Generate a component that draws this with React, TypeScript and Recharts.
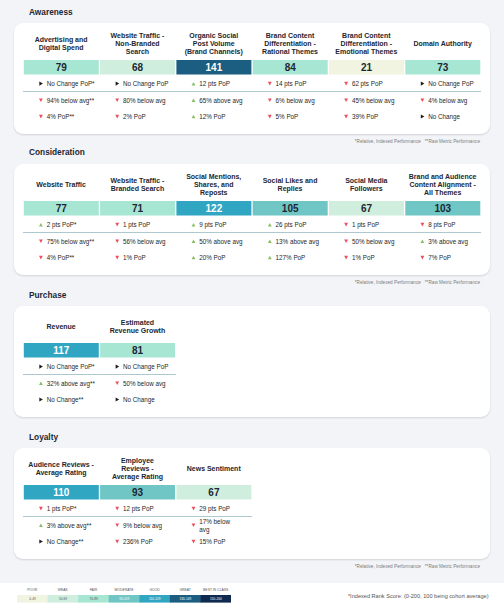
import { BarChart, Bar, XAxis, YAxis } from 'recharts'

const FONT = '"Liberation Sans", Arial, Helvetica, sans-serif'
const BAND = 76.3
const DARK = '#1d2733'

// score bands (legend)
const bandLabels = ['POOR', 'WEAK', 'FAIR', 'MODERATE', 'GOOD', 'GREAT', 'BEST IN CLASS']
const bandRanges = ['0-49', '50-69', '70-89', '90-109', '110-129', '130-149', '150-200']
const bandMax = [49, 69, 89, 109, 129, 149, 200]
const bandColors = ['#f0f4e1', '#cfeedd', '#a7e6d3', '#6fc6c5', '#31a6c2', '#1c5e81', '#10294f']

// Awareness
const awarenessMetrics = [
  'Advertising and\nDigital Spend',
  'Website Traffic -\nNon-Branded\nSearch',
  'Organic Social\nPost Volume\n(Brand Channels)',
  'Brand Content\nDifferentiation -\nRational Themes',
  'Brand Content\nDifferentiation -\nEmotional Themes',
  'Domain Authority',
]
const awarenessScores = [79, 68, 141, 84, 21, 73]
const awarenessPoP = ['▶ No Change PoP*', '▶ No Change PoP', '▲ 12 pts PoP', '▼ 14 pts PoP', '▼ 62 pts PoP', '▶ No Change PoP']
const awarenessVsAvg = ['▼ 94% below avg**', '▼ 80% below avg', '▲ 65% above avg', '▼ 6% below avg', '▼ 45% below avg', '▼ 4% below avg']
const awarenessRaw = ['▼ 4% PoP**', '▼ 2% PoP', '▲ 12% PoP', '▼ 5% PoP', '▼ 39% PoP', '▶ No Change']

// Consideration
const considerationMetrics = [
  'Website Traffic',
  'Website Traffic -\nBranded Search',
  'Social Mentions,\nShares, and\nReposts',
  'Social Likes and\nReplies',
  'Social Media\nFollowers',
  'Brand and Audience\nContent Alignment -\nAll Themes',
]
const considerationScores = [77, 71, 122, 105, 67, 103]
const considerationPoP = ['▲ 2 pts PoP*', '▼ 1 pts PoP', '▲ 9 pts PoP', '▲ 26 pts PoP', '▼ 1 pts PoP', '▼ 8 pts PoP']
const considerationVsAvg = ['▼ 75% below avg**', '▼ 56% below avg', '▲ 50% above avg', '▲ 13% above avg', '▼ 50% below avg', '▲ 3% above avg']
const considerationRaw = ['▼ 4% PoP**', '▼ 1% PoP', '▲ 20% PoP', '▲ 127% PoP', '▼ 1% PoP', '▼ 7% PoP']

// Purchase
const purchaseMetrics = ['Revenue', 'Estimated\nRevenue Growth']
const purchaseScores = [117, 81]
const purchasePoP = ['▶ No Change PoP*', '▶ No Change PoP']
const purchaseVsAvg = ['▲ 32% above avg**', '▼ 50% below avg']
const purchaseRaw = ['▶ No Change**', '▶ No Change']

// Loyalty
const loyaltyMetrics = ['Audience Reviews -\nAverage Rating', 'Employee\nReviews -\nAverage Rating', 'News Sentiment']
const loyaltyScores = [110, 93, 67]
const loyaltyPoP = ['▼ 1 pts PoP*', '▼ 12 pts PoP', '▼ 29 pts PoP']
const loyaltyVsAvg = ['▲ 3% above avg**', '▼ 9% below avg', '▼ 17% below\navg']
const loyaltyRaw = ['▶ No Change**', '▼ 236% PoP', '▼ 15% PoP']

const bandIndex = (score: number) => {
  const i = bandMax.findIndex((m) => score <= m)
  return i < 0 ? bandMax.length - 1 : i
}

function HeaderTick(props: any) {
  const { x, y, payload } = props
  const lines = String(payload.value).split('\n')
  const lh = 8.2
  const cy = y - 16.6
  return (
    <text x={x} textAnchor="middle" fontFamily={FONT} fontSize={7} fontWeight={700} fill={DARK}>
      {lines.map((l, i) => (
        <tspan key={i} x={x} y={cy + (i - (lines.length - 1) / 2) * lh} dominantBaseline="central">
          {l}
        </tspan>
      ))}
    </text>
  )
}

function Trend({ x, y, label }: { x: number; y: number; label: string }) {
  const mark = label[0]
  const lines = label.slice(2).split('\n')
  let marker
  if (mark === '▲') {
    marker = <path d={`M${x},${y + 1.8} L${x + 3.8},${y + 1.8} L${x + 1.9},${y - 1.7} Z`} fill="#86bf62" />
  } else if (mark === '▼') {
    marker = <path d={`M${x},${y - 1.8} L${x + 3.8},${y - 1.8} L${x + 1.9},${y + 1.9} Z`} fill="#ee4d5d" />
  } else {
    marker = <path d={`M${x + 0.3},${y - 2.1} L${x + 3.9},${y} L${x + 0.3},${y + 2.1} Z`} fill="#1e1e1e" />
  }
  const lh = 8.3
  return (
    <g>
      {marker}
      <text fontFamily={FONT} fontSize={6.3} fill="#262626">
        {lines.map((l, i) => (
          <tspan key={i} x={x + 7.7} y={y + (i - (lines.length - 1) / 2) * lh} dominantBaseline="central">
            {l}
          </tspan>
        ))}
      </text>
    </g>
  )
}

function Tile(props: any) {
  const { x, y, width, height, payload } = props
  const top = Math.min(y, y + height)
  const bi = bandIndex(payload.score)
  const tx = x - 0.8 + 16
  return (
    <g>
      <rect x={x} y={top} width={width} height={14.5} fill={bandColors[bi]} />
      <text
        x={x + width / 2}
        y={top + 7.4}
        textAnchor="middle"
        dominantBaseline="central"
        fontFamily={FONT}
        fontSize={10}
        fontWeight={700}
        fill={bi >= 4 ? '#ffffff' : DARK}
      >
        {payload.score}
      </text>
      <Trend x={tx} y={top + 23.6} label={payload.pop} />
      <line x1={x - 0.8} x2={x + width + 0.8} y1={top + 31.5} y2={top + 31.5} stroke="#adc8ce" strokeWidth={1.2} />
      <Trend x={tx} y={top + 40.2} label={payload.vsAvg} />
      <Trend x={tx} y={top + 56.5} label={payload.raw} />
    </g>
  )
}

function ScoreChart({ metrics, scores, pop, vsAvg, raw }: any) {
  const data = metrics.map((m: string, i: number) => ({
    metric: m,
    score: scores[i],
    pop: pop[i],
    vsAvg: vsAvg[i],
    raw: raw[i],
  }))
  return (
    <BarChart
      width={metrics.length * BAND}
      height={106}
      data={data}
      margin={{ top: 0, right: 0, bottom: 0, left: 0 }}
      barCategoryGap={0.8}
    >
      <XAxis
        dataKey="metric"
        orientation="top"
        height={37}
        axisLine={false}
        tickLine={false}
        tickSize={0}
        tickMargin={0}
        interval={0}
        tick={<HeaderTick />}
      />
      <YAxis hide domain={[0, 200]} reversed />
      <Bar dataKey="score" isAnimationActive={false} shape={<Tile />} />
    </BarChart>
  )
}

function LegendTick(props: any) {
  const { x, y, payload } = props
  return (
    <text x={x} y={y - 5} textAnchor="middle" dominantBaseline="central" fontFamily={FONT} fontSize={3.4} fill="#555">
      {payload.value}
    </text>
  )
}

function LegendBox(props: any) {
  const { x, y, width, height, payload, index } = props
  const top = Math.min(y, y + height)
  return (
    <g>
      <rect x={x} y={top} width={width} height={7.6} fill={bandColors[index]} />
      <text
        x={x + width / 2}
        y={top + 3.9}
        textAnchor="middle"
        dominantBaseline="central"
        fontFamily={FONT}
        fontSize={3.2}
        fill={index >= 3 ? '#ffffff' : '#555'}
      >
        {payload.range}
      </text>
    </g>
  )
}

function BandLegend() {
  const data = bandLabels.map((l, i) => ({ label: l, range: bandRanges[i], max: bandMax[i] }))
  return (
    <BarChart width={214} height={20} data={data} margin={{ top: 0, right: 0, bottom: 0, left: 0 }} barCategoryGap={0}>
      <XAxis
        dataKey="label"
        orientation="top"
        height={12}
        axisLine={false}
        tickLine={false}
        tickSize={0}
        tickMargin={0}
        interval={0}
        tick={<LegendTick />}
      />
      <YAxis hide domain={[0, 200]} reversed />
      <Bar dataKey="max" isAnimationActive={false} shape={<LegendBox />} />
    </BarChart>
  )
}

const footStyle: any = {
  position: 'absolute',
  right: 24,
  fontFamily: FONT,
  fontSize: 4.7,
  lineHeight: '6px',
  color: '#7d7d7d',
  whiteSpace: 'pre',
}

function Section({ title, titleY, cardY, foot, children }: any) {
  return (
    <>
      <div
        style={{
          position: 'absolute',
          left: 29,
          top: titleY - 5,
          fontFamily: FONT,
          fontSize: 8.3,
          fontWeight: 700,
          lineHeight: '10px',
          color: DARK,
        }}
      >
        {title}
      </div>
      <div
        style={{
          position: 'absolute',
          left: 14,
          top: cardY,
          width: 475.5,
          height: 110.5,
          background: '#ffffff',
          borderRadius: 9,
          boxShadow: '0 1px 2px rgba(0,0,0,0.14)',
        }}
      />
      <div style={{ position: 'absolute', left: 23, top: cardY }}>{children}</div>
      {foot != null && (
        <div style={{ ...footStyle, top: foot - 3 }}>{'*Relative, Indexed Performance   **Raw Metric Performance'}</div>
      )}
    </>
  )
}

export default function App() {
  return (
    <div style={{ position: 'relative', width: 504, height: 612, background: '#ffffff', overflow: 'hidden' }}>
      <style>{'body{margin:0}'}</style>
      <div style={{ position: 'absolute', left: 0, top: 0, width: 504, height: 583, background: '#f3f4f8' }} />
      <Section title="Awareness" titleY={11.7} cardY={23} foot={141.7}>
        <ScoreChart
          metrics={awarenessMetrics}
          scores={awarenessScores}
          pop={awarenessPoP}
          vsAvg={awarenessVsAvg}
          raw={awarenessRaw}
        />
      </Section>
      <Section title="Consideration" titleY={152.3} cardY={164} foot={282.7}>
        <ScoreChart
          metrics={considerationMetrics}
          scores={considerationScores}
          pop={considerationPoP}
          vsAvg={considerationVsAvg}
          raw={considerationRaw}
        />
      </Section>
      <Section title="Purchase" titleY={295.3} cardY={306}>
        <ScoreChart metrics={purchaseMetrics} scores={purchaseScores} pop={purchasePoP} vsAvg={purchaseVsAvg} raw={purchaseRaw} />
      </Section>
      <Section title="Loyalty" titleY={437.3} cardY={448.3} foot={567}>
        <ScoreChart metrics={loyaltyMetrics} scores={loyaltyScores} pop={loyaltyPoP} vsAvg={loyaltyVsAvg} raw={loyaltyRaw} />
      </Section>
      <div style={{ position: 'absolute', left: 17, top: 583 }}>
        <BandLegend />
      </div>
      <div
        style={{
          position: 'absolute',
          right: 15.5,
          top: 593,
          fontFamily: FONT,
          fontSize: 5.6,
          lineHeight: '6px',
          color: '#555',
          whiteSpace: 'pre',
        }}
      >
        {'*Indexed Rank Score: (0-200, 100 being cohort average)'}
      </div>
    </div>
  )
}
